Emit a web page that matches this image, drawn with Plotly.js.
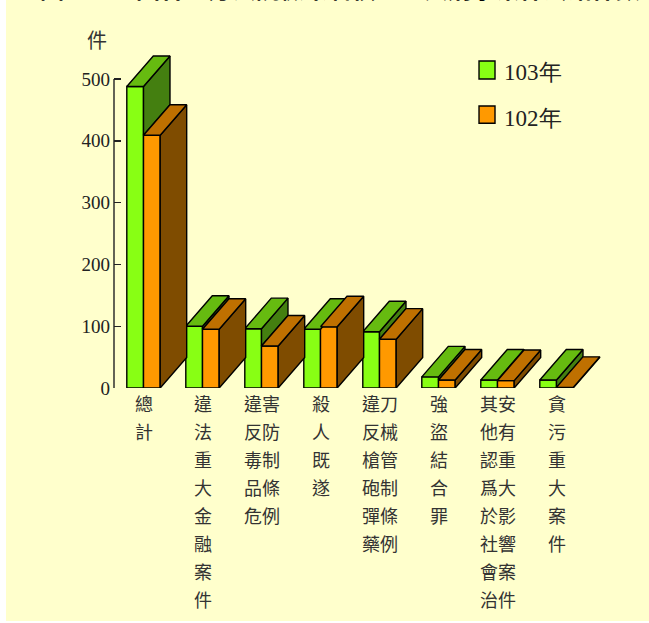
<!DOCTYPE html>
<html><head><meta charset="utf-8">
<script src="https://cdn.plot.ly/plotly-3.0.1.min.js"></script>
<style>
html,body{margin:0;padding:0;background:#ffffff;}
#chart{position:absolute;left:6px;top:0;width:643px;height:621px;}
</style>
</head><body><div id="chart"></div>
<script>
// ---- data ----
const categories = ['總計','違法重大金融案件','違反毒品危害防制條例','殺人既遂','違反槍砲彈藥刀械管制條例','強盜結合罪','其他認爲於社會治安有重大影響案件','貪污重大案件'];
const labelRows = [
  ['總','計'],
  ['違','法','重','大','金','融','案','件'],
  ['違害','反防','毒制','品條','危例'],
  ['殺','人','既','遂'],
  ['違刀','反械','槍管','砲制','彈條','藥例'],
  ['強','盜','結','合','罪'],
  ['其安','他有','認重','爲大','於影','社響','會案','治件'],
  ['貪','污','重','大','案','件']
];
const seriesNames = ['103年','102年'];
const values103 = [488, 100, 96, 95, 91, 18, 13, 13];
const values102 = [409, 95, 68, 99, 79, 13, 12, 1];
const yTicks = [0, 100, 200, 300, 400, 500];
const yUnit = '件';
const titleText = '圖一　全國各地方法院檢察署偵查重大刑事案件終結件數';

// ---- styles ----
const W = 0.283;     // bar width (category units)
const DX = 0.449;    // depth offset x (category units)
const DY = 49.4;     // depth offset y (value units)
const C = {
  gFront:'#88FF14', gTop:'#66BB10', gSide:'#447F10',
  oFront:'#FF9900', oTop:'#BF7000', oSide:'#7F4C00'
};
const xs = categories.map((_, i) => i);

function polyTrace(polys, color) {
  const x = [], y = [];
  polys.forEach(p => {
    if (!p) return;
    p.forEach(pt => { x.push(pt[0]); y.push(pt[1]); });
    x.push(p[0][0]); y.push(p[0][1]);
    x.push(null); y.push(null);
  });
  return {type:'scatter', mode:'lines', x, y, fill:'toself', fillcolor:color,
    line:{color:'#000', width:1.4}, hoverinfo:'skip', showlegend:false};
}

const gSide = xs.map(c => {
  const g = values103[c], o = values102[c];
  if (g <= o) return null;
  return [[c,o],[c,g],[c+DX,g+DY],[c+DX,o+DY]];
});
const gTop = xs.map(c => {
  const g = values103[c];
  return [[c-W,g],[c,g],[c+DX,g+DY],[c-W+DX,g+DY]];
});
const oSide = xs.map(c => {
  const o = values102[c];
  return [[c+W,0],[c+W,o],[c+W+DX,o+DY],[c+W+DX,DY]];
});
const oTop = xs.map(c => {
  const o = values102[c];
  return [[c,o],[c+W,o],[c+W+DX,o+DY],[c+DX,o+DY]];
});

const traces = [
  {type:'bar', name:seriesNames[0], x:xs, y:values103, width:W, offset:-W,
   marker:{color:C.gFront, line:{color:'#000', width:1.4}}, hoverinfo:'skip', showlegend:false},
  {type:'bar', name:seriesNames[1], x:xs, y:values102, width:W, offset:0,
   marker:{color:C.oFront, line:{color:'#000', width:1.4}}, hoverinfo:'skip', showlegend:false},
  polyTrace(gSide, C.gSide),
  polyTrace(gTop, C.gTop),
  polyTrace(oSide, C.oSide),
  polyTrace(oTop, C.oTop)
];

const annotations = [];
labelRows.forEach((rows, i) => {
  rows.forEach((r, j) => {
    annotations.push({xref:'x', yref:'y', x:i, y:0, text:r, showarrow:false,
      xanchor:'center', yanchor:'middle', yshift:-(15 + 28*j),
      font:{family:'Noto Sans CJK TC', size:18, color:'#333'}});
  });
});
annotations.push({xref:'paper', yref:'paper', x:0, y:1, text:yUnit, showarrow:false,
  xanchor:'center', yanchor:'middle', xshift:-17, yshift:11,
  font:{family:'Noto Sans CJK TC', size:20, color:'#333'}});
annotations.push({xref:'paper', yref:'paper', x:-0.1545, y:1, text:titleText, showarrow:false,
  xanchor:'left', yanchor:'middle', yshift:63,
  font:{family:'Noto Sans CJK TC', size:24, color:'#000', weight:700}});

// manual legend (keys sized like the reference)
const legendKeys = [
  {color:C.gFront, y0:0.9142, y1:0.9675, ty:0.9349},
  {color:C.oFront, y0:0.7831, y1:0.8343, ty:0.7988}
];
const shapes = [{type:'line', xref:'paper', yref:'y', x0:0, x1:0, y0:0, y1:yTicks[yTicks.length-1],
    line:{color:'#222', width:1.4}}];
legendKeys.forEach((k, i) => {
  shapes.push({type:'rect', xref:'paper', yref:'paper', x0:0.7419, x1:0.7744, y0:k.y0, y1:k.y1,
    fillcolor:k.color, line:{color:'#000', width:1.4}});
  annotations.push({xref:'paper', yref:'paper', x:0.7886, y:k.ty, text:seriesNames[i], showarrow:false,
    xanchor:'left', yanchor:'middle',
    font:{family:'Liberation Serif', size:23, color:'#222'}});
});

const layout = {
  width:643, height:621,
  margin:{l:108, r:43, t:50, b:233},
  paper_bgcolor:'#FFFFCC', plot_bgcolor:'rgba(0,0,0,0)',
  barmode:'overlay',
  xaxis:{range:[-0.5, 7.839], showticklabels:false, showgrid:false, zeroline:false,
    showline:false, ticks:'', fixedrange:true},
  yaxis:{range:[0, 547], tickvals:yTicks, ticktext:yTicks.map(String), ticks:'inside',
    ticklen:7, tickwidth:1.4, tickcolor:'#222', showgrid:false, zeroline:false, showline:false,
    ticklabelstandoff:3,
    tickfont:{family:'Liberation Serif', size:19, color:'#222'}, fixedrange:true},
  shapes,
  annotations,
  showlegend:false
};

Plotly.newPlot('chart', traces, layout, {displayModeBar:false, staticPlot:true});
</script>
</body></html>
